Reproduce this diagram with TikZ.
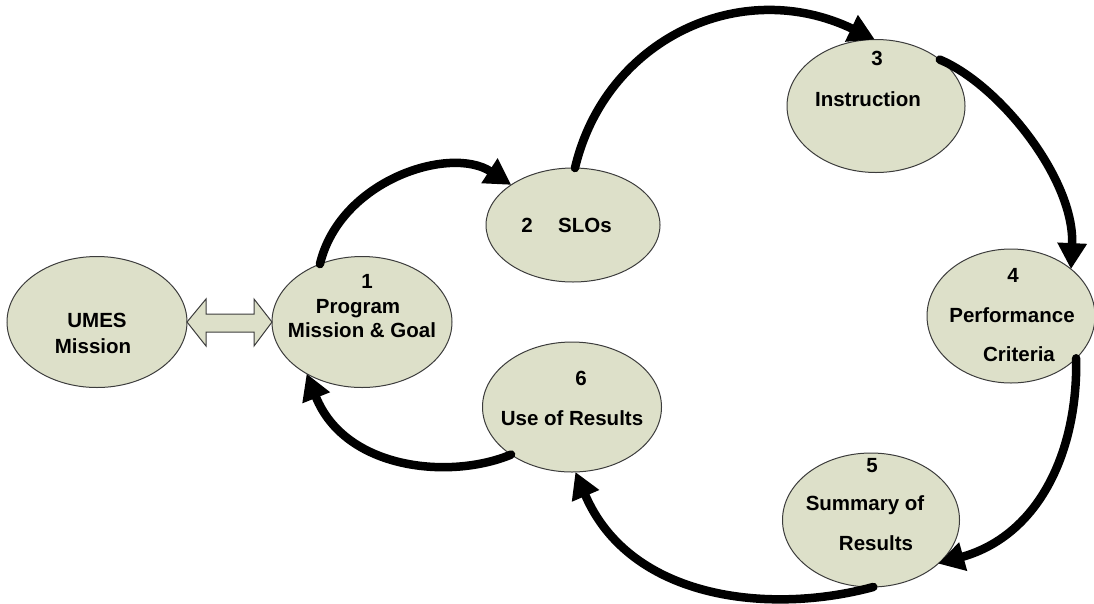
\documentclass[tikz,border=0pt]{standalone}
\usepackage{fontspec}
\setmainfont{Liberation Sans}
\usetikzlibrary{shapes.geometric,arrows.meta,calc}
\definecolor{ovalfill}{RGB}{221,224,201}
\definecolor{ovaledge}{RGB}{60,60,60}
\begin{document}
\begin{tikzpicture}[x=1pt,y=-1pt,
  oval/.style={ellipse,draw=ovaledge,line width=1pt,fill=ovalfill,inner sep=0pt,outer sep=0pt},
  txt/.style={anchor=base,inner sep=0pt,font=\fontsize{20.5}{24}\selectfont\bfseries},
  flow/.style={line width=8.5pt,line cap=round,-{Triangle[length=26pt,width=28pt]}}]
\useasboundingbox (0,0) rectangle (1094,603);
% ovals
\node[oval,minimum width=180pt,minimum height=131pt] (umes) at (97,322) {};
\node[oval,minimum width=180pt,minimum height=131pt] (prog) at (362,322) {};
\node[oval,minimum width=174pt,minimum height=114pt] (slo) at (573,225) {};
\node[oval,minimum width=178pt,minimum height=133pt] (inst) at (876,106) {};
\node[oval,minimum width=168pt,minimum height=134pt] (perf) at (1011,316) {};
\node[oval,minimum width=177pt,minimum height=134pt] (summ) at (871,520) {};
\node[oval,minimum width=179pt,minimum height=130pt] (use) at (572,407) {};
% texts
\node[txt] (tu1) at (97,327) {UMES};
\node[txt] (tu2) at (93,353) {Mission};
\node[txt] (tp0) at (367,288) {1};
\node[txt] (tp1) at (358,313) {Program};
\node[txt] (tp2) at (362,337) {Mission \& Goal};
\node[txt] (ts0) at (527,232) {2};
\node[txt] (ts1) at (585,232) {SLOs};
\node[txt] (ti0) at (877,65) {3};
\node[txt] (ti1) at (868,106) {Instruction};
\node[txt] (tf0) at (1013,282) {4};
\node[txt] (tf1) at (1012,322) {Performance};
\node[txt] (tf2) at (1019,361) {Criteria};
\node[txt] (tr0) at (872,472) {5};
\node[txt] (tr1) at (865,510) {Summary of};
\node[txt] (tr2) at (876,550) {Results};
\node[txt] (tx0) at (581,385) {6};
\node[txt] (tx1) at (572,425) {Use of Results};
% double arrow between UMES and Program
\draw[draw=ovaledge,line width=1pt,fill=ovalfill,line join=miter]
  (umes.east) -- ($(umes.east)+(19,-23)$) -- ($(umes.east)+(19,-8)$)
  -- ($(prog.west)+(-18,-8)$) -- ($(prog.west)+(-18,-23)$) -- (prog.west)
  -- ($(prog.west)+(-18,24)$) -- ($(prog.west)+(-18,10)$)
  -- ($(umes.east)+(19,10)$) -- ($(umes.east)+(19,24)$) -- cycle;
% cycle arrows
\draw[flow] (prog.126.7) .. controls (340,180) and (450,145) .. (slo.147.6);
\draw[flow] (slo.88) .. controls (605,40) and (740,-25) .. (inst.91);
\draw[flow] (inst.36.6) .. controls (1000,85) and (1075,180) .. (perf.38);
\draw[flow] (perf.-33) .. controls (1078,450) and (1040,535) .. (summ.-33);
\draw[flow] (summ.-88) .. controls (770,615) and (630,600) .. (use.-87.5);
\draw[flow] (use.-142) .. controls (450,480) and (345,470) .. (prog.-137);
\end{tikzpicture}
\end{document}
